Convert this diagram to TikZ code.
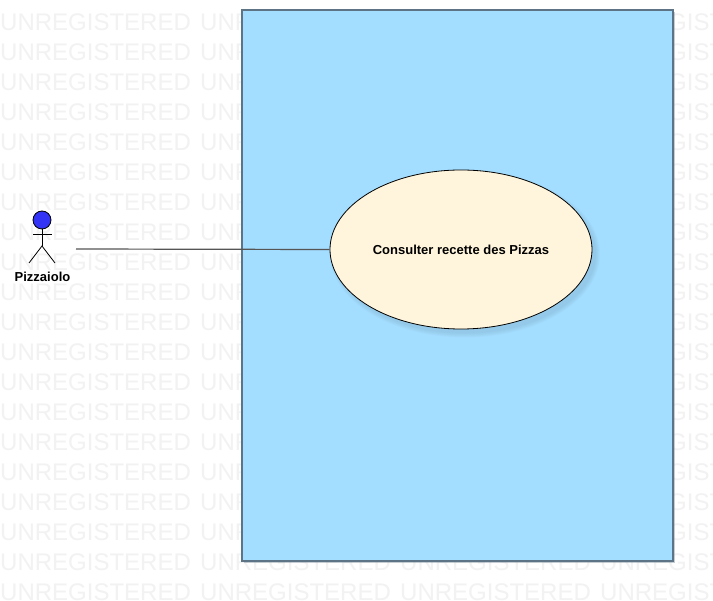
\documentclass[tikz,border=0pt]{standalone}
\usepackage{fontspec}
\setmainfont{Liberation Sans}
\usetikzlibrary{shapes.geometric}
\definecolor{wm}{HTML}{F2F2F2}
\definecolor{sysfill}{HTML}{A3DDFF}
\definecolor{sysline}{HTML}{5C7486}
\definecolor{ucfill}{HTML}{FFF5DC}
\definecolor{headfill}{HTML}{3333F5}
\definecolor{conn}{HTML}{555555}
\tikzset{
  wmtext/.style={font=\fontsize{24}{24}\selectfont, text=wm, anchor=west, inner sep=0pt},
  sysbox/.style={draw=sysline, line width=1.6pt, fill=sysfill},
  usecase/.style={ellipse, draw=black, line width=0.8pt, fill=ucfill, minimum width=262pt, minimum height=159pt, inner sep=0pt, font=\fontsize{13}{15}\bfseries\selectfont},
  actorline/.style={draw=black, line width=0.8pt},
  actorlabel/.style={font=\fontsize{13}{15}\bfseries\selectfont, inner sep=0pt},
  connector/.style={draw=conn, line width=1.2pt}
}
\begin{document}
\begin{tikzpicture}[x=1pt,y=-1pt]
\useasboundingbox (0,0) rectangle (713,601);
\fill[white] (0,0) rectangle (713,601);
\begin{scope}
\clip (0,0) rectangle (713,601);
\foreach \r in {0,...,19}{
  \foreach \c in {0,...,3}{
    \node[wmtext] at ({\c*200},{22+\r*30}) {UNREGISTERED};
  }
}
\end{scope}
% system boundary
\fill[sysline, opacity=.35] (244,12) rectangle (675,563);
\node[sysbox, minimum width=431pt, minimum height=551pt, inner sep=0pt, outer sep=0pt, anchor=north west] (sys) at (242,10) {};
% use case soft shadow
\foreach \g in {8,6,4,2,0}{
  \fill[sysline, opacity=.035] (465,254) ellipse [x radius={131+\g/2}, y radius={79.5+\g/2}];
}
\node[usecase] (uc) at (461,249.5) {Consulter recette des Pizzas};
% actor
\node[circle, draw=black, line width=0.8pt, fill=headfill, minimum size=18pt, inner sep=0pt] (head) at (42,220) {};
\coordinate (hip) at (42,246);
\coordinate (armL) at (33,234);
\coordinate (armR) at (52,234);
\coordinate (footL) at (29,263);
\coordinate (footR) at (55,263);
\draw[actorline] (head.south) -- (hip);
\draw[actorline] (armL) -- (armR);
\draw[actorline] (footL) -- (hip) -- (footR);
\node[actorlabel] (lbl) at (42.5,276.5) {Pizzaiolo};
\coordinate (actorend) at (76,249);
\draw[connector] (actorend) -- (uc.west);
\end{tikzpicture}
\end{document}
